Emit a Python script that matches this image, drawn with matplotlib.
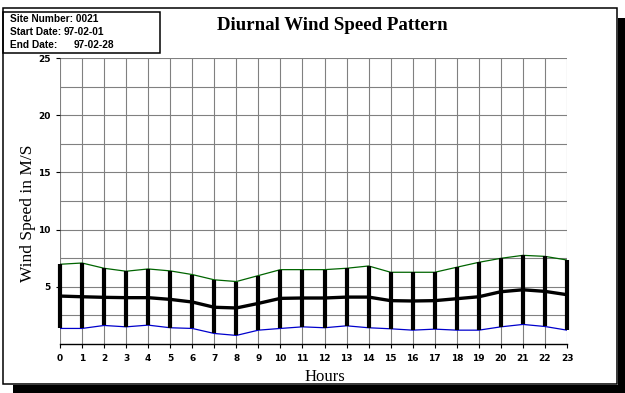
"""Diurnal wind speed pattern: hourly min / mean / max with range bars."""
import matplotlib

matplotlib.use("Agg")
import matplotlib.pyplot as plt  # noqa: E402
from matplotlib.patches import Rectangle  # noqa: E402

W, H = 625, 393

hours = list(range(24))
wind_max = [6.97, 7.08, 6.62, 6.36, 6.56, 6.39, 6.07, 5.61, 5.46, 5.98, 6.50, 6.50,
            6.50, 6.62, 6.82, 6.27, 6.27, 6.27, 6.71, 7.14, 7.49, 7.75, 7.66, 7.34]
wind_mean = [4.19, 4.13, 4.08, 4.05, 4.05, 3.90, 3.67, 3.21, 3.15, 3.55, 3.99, 4.02,
             4.02, 4.10, 4.10, 3.79, 3.76, 3.79, 3.96, 4.13, 4.57, 4.74, 4.60, 4.31]
wind_min = [1.36, 1.36, 1.62, 1.50, 1.65, 1.42, 1.36, 0.92, 0.75, 1.21, 1.36, 1.50,
            1.42, 1.59, 1.42, 1.33, 1.21, 1.30, 1.21, 1.21, 1.50, 1.71, 1.53, 1.21]

site_number = "0021"
start_date = "97-02-01"
end_date = "97-02-28"


def fx(px):
    return px / W


def fy(py):
    return 1 - py / H


fig = plt.figure(figsize=(W / 100, H / 100), dpi=100)
fig.patch.set_facecolor("white")

# outer frame + drop shadow
fig.patches.append(Rectangle((fx(618), fy(393)), fx(7), 375 / H, transform=fig.transFigure,
                             facecolor="black", edgecolor="none"))
fig.patches.append(Rectangle((fx(13), fy(393)), fx(612), 8 / H, transform=fig.transFigure,
                             facecolor="black", edgecolor="none"))
fig.patches.append(Rectangle((fx(3), fy(384)), fx(614), 376 / H, transform=fig.transFigure,
                             facecolor="none", edgecolor="black", linewidth=1.1))

# info box
fig.patches.append(Rectangle((fx(3), fy(53)), fx(157), 41 / H, transform=fig.transFigure,
                             facecolor="none", edgecolor="black", linewidth=1.1))
info_font = dict(fontsize=7.3, fontweight="bold", family="Liberation Sans", va="center")
fig.text(fx(10), fy(19), f"Site Number: {site_number}", **info_font)
fig.text(fx(10), fy(32), "Start Date:", **info_font)
fig.text(fx(64), fy(32), start_date, **info_font)
fig.text(fx(10), fy(45), "End Date:", **info_font)
fig.text(fx(74), fy(45), end_date, **info_font)

fig.text(fx(332), fy(25), "Diurnal Wind Speed Pattern", ha="center", va="center",
         fontsize=13.6, fontweight="bold", family="Liberation Serif")

ax = fig.add_axes([fx(60), fy(344), fx(507), 286 / H])
ax.set_xlim(0, 23)
ax.set_ylim(0, 25)

ax.set_xticks(hours)
ax.set_xticklabels([str(h) for h in hours])
ax.set_yticks([5, 10, 15, 20, 25])
ax.set_yticks([2.5, 7.5, 12.5, 17.5, 22.5], minor=True)
ax.tick_params(axis="both", which="major", length=3, width=0.8, color="black",
               labelsize=6.5, pad=4)
ax.tick_params(axis="y", which="minor", length=0)
for lab in ax.get_xticklabels() + ax.get_yticklabels():
    lab.set_fontweight("bold")

ax.grid(True, which="major", axis="x", color="#808080", linewidth=0.8)
ax.grid(True, which="both", axis="y", color="#808080", linewidth=0.8)
ax.set_axisbelow(True)
for s in ("top", "right", "left"):
    ax.spines[s].set_visible(False)
ax.spines["bottom"].set_linewidth(1.0)

ax.plot(hours, wind_max, color="#006400", linewidth=0.9, zorder=3)
ax.plot(hours, wind_min, color="#0000cc", linewidth=0.9, zorder=3)
ax.plot(hours, wind_mean, color="black", linewidth=2.4, zorder=4)
ax.vlines(hours, wind_min, wind_max, color="black", linewidth=3, zorder=5, clip_on=False)

fig.text(fx(28), fy(213), "Wind Speed in M/S", rotation=90, ha="center", va="center",
         fontsize=12.5, family="Liberation Serif")
fig.text(fx(325), fy(377), "Hours", ha="center", va="center",
         fontsize=12, family="Liberation Serif")

fig.savefig("out.png", dpi=100)
